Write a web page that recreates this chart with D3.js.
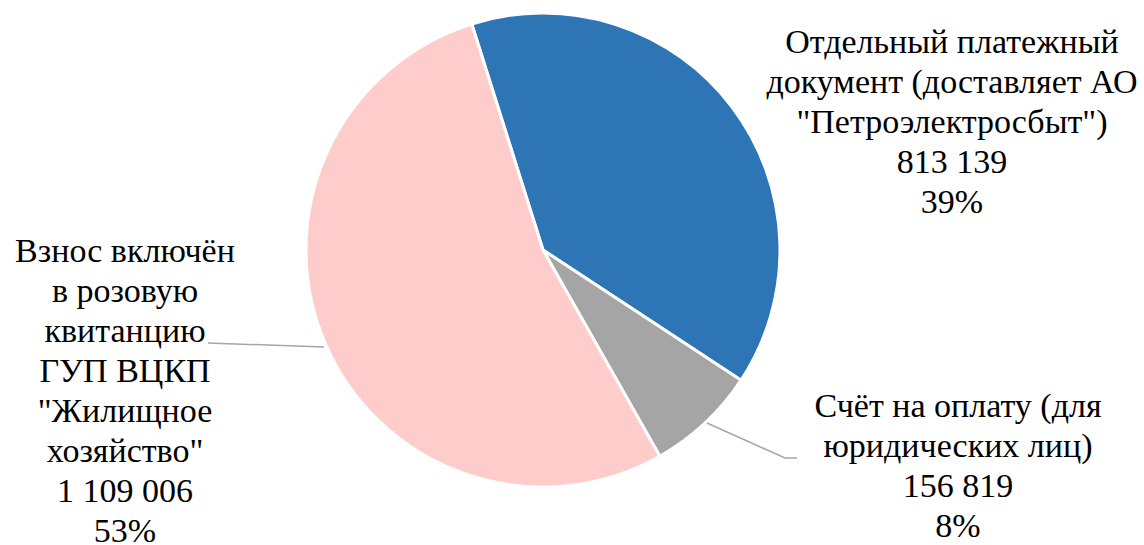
<!DOCTYPE html>
<html><head><meta charset="utf-8">
<script src="https://cdn.jsdelivr.net/npm/d3@7/dist/d3.min.js"></script>
</head><body style="margin:0">
<svg id="c" width="1144" height="545"></svg>
<script>
const categories = [
  ["Отдельный платежный", "документ (доставляет АО", "\"Петроэлектросбыт\")"],
  ["Счёт на оплату (для", "юридических лиц)"],
  ["Взнос включён", "в розовую", "квитанцию", "ГУП ВЦКП", "\"Жилищное", "хозяйство\""]
];
const values = [813139, 156819, 1109006];
const colors = ["#2E75B6", "#A5A5A5", "#FFCCCC"];
const valueLabels = ["813 139", "156 819", "1 109 006"];
const pctLabels = ["39%", "8%", "53%"];

const svg = d3.select("#c");
const cx = 543, cy = 250, r = 237;
const startDeg = -17.5;
const pie = d3.pie().sort(null).startAngle(startDeg*Math.PI/180).endAngle((startDeg+360)*Math.PI/180);
const arcs = pie(values);
const arc = d3.arc().innerRadius(0).outerRadius(r);
const g = svg.append("g").attr("transform", `translate(${cx},${cy})`);
g.selectAll("path").data(arcs).enter().append("path")
  .attr("d", arc).attr("fill", (d,i)=>colors[i])
  .attr("stroke", "#fff").attr("stroke-width", 3).attr("stroke-linejoin","round");

const leaders = [
  null,
  [[707,423],[785,458],[797,458]],
  [[324,347],[208,343]]
];
leaders.forEach(l => {
  if (!l) return;
  svg.append("polyline").attr("points", l.map(p=>p.join(",")).join(" "))
    .attr("fill","none").attr("stroke","#A6A6A6").attr("stroke-width",1.5);
});

const labelPos = [[952,53],[958,417],[125,262]];
const lh = 40;
const fs = 29, sc = 34/29;
categories.forEach((lines, i) => {
  const all = lines.concat([valueLabels[i], pctLabels[i]]);
  const lg = svg.append("g").attr("transform", `translate(${labelPos[i][0]},${labelPos[i][1]}) scale(${sc})`);
  const t = lg.append("text").attr("font-family","Liberation Serif")
    .attr("font-size", fs).attr("text-anchor","middle");
  all.forEach((s, k) => {
    t.append("tspan").attr("x", 0).attr("y", k*lh/sc).text(s);
  });
});
</script>
</body></html>
